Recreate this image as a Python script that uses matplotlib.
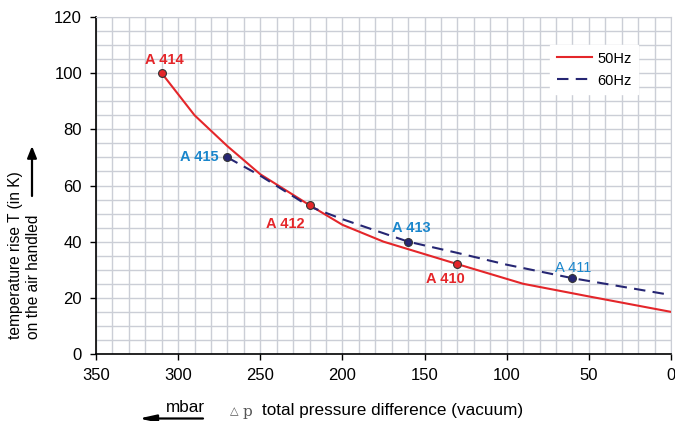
import numpy as np
import matplotlib
matplotlib.use('Agg')
import matplotlib.pyplot as plt
from matplotlib.ticker import MultipleLocator

plt.rcParams['font.family'] = ['Liberation Sans', 'DejaVu Sans']

# 50 Hz curve
dp_50 = [310, 290, 270, 250, 220, 200, 175, 130, 90, 50, 0]
t_50 = [100, 85, 74, 64, 53, 46, 40, 32, 25, 20.5, 15]
# 60 Hz curve
dp_60 = [270, 250, 220, 200, 160, 130, 100, 60, 0]
t_60 = [70, 63.5, 52.5, 48, 40, 36, 31.8, 27, 21]

# model points
models_50 = ['A 414', 'A 412', 'A 410']
pts_50_dp = [310, 220, 130]
pts_50_t = [100, 53, 32]
models_60 = ['A 415', 'A 413', 'A 411']
pts_60_dp = [270, 160, 60]
pts_60_t = [70, 40, 27]

red = '#e4262a'
navy = '#262673'
blue = '#1a86cc'
gridc = '#cbced6'

fig = plt.figure(figsize=(6.75, 4.21), dpi=100)
ax = fig.add_axes([96/675, 67/421, 575/675, 337/421])

ax.plot(dp_50, t_50, color=red, lw=1.5, label='50Hz', zorder=3)
ax.plot(dp_60, t_60, color=navy, lw=1.5, ls=(0, (5.5, 3.5)), label='60Hz', zorder=3)
ax.scatter(pts_50_dp, pts_50_t, s=32, color=red, edgecolor='#333333', lw=0.8, zorder=4)
ax.scatter(pts_60_dp, pts_60_t, s=32, color=navy, edgecolor='#333333', lw=0.8, zorder=4)

# label offsets (points)
offs_50 = [(2, 9.5, 'center'), (-17.5, -13.5, 'center'), (-9, -11, 'center')]
offs_60 = [(-6, 0, 'right'), (2, 9.5, 'center'), (0.5, 7.5, 'center')]
for name, x, y, (dx, dy, ha) in zip(models_50, pts_50_dp, pts_50_t, offs_50):
    ax.annotate(name, (x, y), xytext=(dx, dy), textcoords='offset points',
                ha=ha, va='center', color=red, fontsize=10.5, fontweight='bold')
for i, (name, x, y, (dx, dy, ha)) in enumerate(zip(models_60, pts_60_dp, pts_60_t, offs_60)):
    ax.annotate(name, (x, y), xytext=(dx, dy), textcoords='offset points',
                ha=ha, va='center', color=blue, fontsize=10.5,
                fontweight='normal' if i == 2 else 'bold')

ax.set_xlim(350, 0)
ax.set_ylim(0, 120)
ax.xaxis.set_major_locator(MultipleLocator(50))
ax.xaxis.set_minor_locator(MultipleLocator(10))
ax.yaxis.set_major_locator(MultipleLocator(20))
ax.yaxis.set_minor_locator(MultipleLocator(5))
ax.grid(which='both', color=gridc, lw=1.0, zorder=0)
ax.set_axisbelow(True)
ax.tick_params(which='minor', length=0)
ax.tick_params(which='major', length=4, width=1, labelsize=12, pad=6, color='black')
for s in ['top', 'right']:
    ax.spines[s].set_color(gridc)
for s in ['left', 'bottom']:
    ax.spines[s].set_color('black')
    ax.spines[s].set_linewidth(1.2)

leg = ax.legend(loc='upper right', bbox_to_anchor=(0.9426, 0.917), frameon=True,
                fontsize=10.5, handlelength=2.4, handletextpad=0.35, borderpad=0.45,
                labelspacing=0.55, borderaxespad=0,
                fancybox=False, edgecolor='white', framealpha=1)

# y axis label with arrow
fig.text(16/675, 1 - 339/421, 'temperature rise T (in K)', rotation=90,
         ha='center', va='bottom', fontsize=11.2)
fig.text(34/675, 1 - 339/421, 'on the air handled', rotation=90,
         ha='center', va='bottom', fontsize=11.2)
fig.add_artist(matplotlib.patches.FancyArrowPatch(
    (32/675, 1 - 196/421), (32/675, 1 - 146/421), transform=fig.transFigure,
    arrowstyle='-|>,head_length=7,head_width=2.8', color='black', lw=1.6,
    shrinkA=0, shrinkB=0))

# x axis label with arrow
fig.text(230/675, 1 - 411/421, '\u25b3', fontsize=8, ha='left', va='center', color='#555555')
fig.text(243/675, 1 - 412/421, 'p', fontsize=11, family='DejaVu Serif', ha='left', va='center', color='#555555')
fig.text(262/675, 1 - 410/421, 'total pressure difference (vacuum)', fontsize=12.3,
         ha='left', va='center')
fig.text(185/675, 1 - 408/421, 'mbar', fontsize=12.3, ha='center', va='center')
fig.add_artist(matplotlib.patches.FancyArrowPatch(
    (203/675, 1 - 418.5/421), (139/675, 1 - 418.5/421), transform=fig.transFigure,
    arrowstyle='-|>,head_length=10,head_width=2.2', color='black', lw=1.6,
    shrinkA=0, shrinkB=0))

fig.savefig('out.png', dpi=100)
